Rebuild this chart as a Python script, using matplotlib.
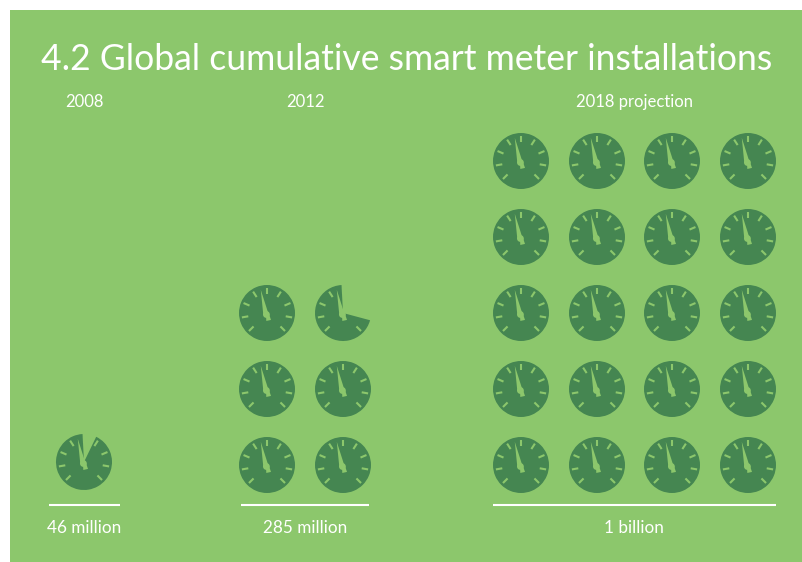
import numpy as np
import matplotlib
matplotlib.use('Agg')
import matplotlib.pyplot as plt
from matplotlib.patches import Wedge, Circle, Polygon, Rectangle

# === DATA ===
years = ['2008', '2012', '2018 projection']
installs = [46, 285, 1000]  # million
value_labels = ['46 million', '285 million', '1 billion']
title = '4.2 Global cumulative smart meter installations'
meter_unit = 50  # million per dial

# === LAYOUT (pixels) ===
col_x = [[84], [267, 343], [521, 597, 672, 748]]
row_y = [[462], [465, 389, 313], [465, 389, 313, 237, 161]]
rule_x = [(49, 120), (241, 369), (493, 776)]
label_x = [84, 305, 634]
radius = 28

bg = '#8cc76c'
dark = '#458651'
font = 'Lato'

tick_angles = [-135, -100, -67, -33, 0, 33, 67, 100, 135]


def pt(cx, cy, r, a):
    # a is clock angle in degrees, y axis points down
    a = np.radians(a)
    return cx + r * np.sin(a), cy - r * np.cos(a)


def draw_meter(ax, cx, cy, frac):
    if frac >= 1:
        ax.add_patch(Wedge((cx, cy), radius, 0, 360, color=dark, lw=0))
    else:
        end = -3
        start = end - frac * 360
        ax.add_patch(Wedge((cx, cy), radius, start - 90, end - 90, color=dark, lw=0))
    for a in tick_angles:
        x0, y0 = pt(cx, cy, 19, a)
        x1, y1 = pt(cx, cy, 25.5, a)
        ax.plot([x0, x1], [y0, y1], color=bg, lw=1.5, solid_capstyle='butt')
    # needle
    tip = pt(cx, cy, 24, -15)
    left = pt(cx - 1.2, cy + 1, 2.6, 75)
    right = pt(cx - 1.2, cy + 1, 2.6, -105)
    ax.add_patch(Polygon([tip, left, right], closed=True, color=bg, lw=0))
    ax.add_patch(Circle((cx - 0.6, cy + 1.5), 3.4, color=bg, lw=0))
    tail = [pt(cx, cy, 2, 110), pt(cx, cy, 8, 150), pt(cx, cy, 8, 185), pt(cx, cy, 2, 210)]
    ax.add_patch(Polygon(tail, closed=True, color=bg, lw=0))


# === PLOTTING ===
fig = plt.figure(figsize=(8.02, 5.62), dpi=100, facecolor='white')
ax = fig.add_axes([0, 0, 1, 1])
ax.set_xlim(0, 802)
ax.set_ylim(562, 0)
ax.axis('off')

ax.add_patch(Rectangle((10, 10), 792, 552, color=bg, lw=0))

ax.text(407, 59.5, title, color='white', fontsize=25.6, family=font,
        ha='center', va='center')

for i, value in enumerate(installs):
    n = value / meter_unit
    full = int(n)
    frac = n - full
    slots = [(x, y) for y in row_y[i] for x in col_x[i]]
    for j in range(full):
        draw_meter(ax, *slots[j], 1)
    if frac > 0:
        draw_meter(ax, *slots[full], frac)

    ax.text(label_x[i], 102, years[i], color='white', fontsize=12, family=font,
            ha='center', va='center')
    ax.text(label_x[i], 528, value_labels[i], color='white', fontsize=12.3, family=font,
            ha='center', va='center')
    ax.plot(rule_x[i], [505, 505], color='white', lw=1.5, solid_capstyle='butt')

fig.savefig('out.png', dpi=100, facecolor='white')
